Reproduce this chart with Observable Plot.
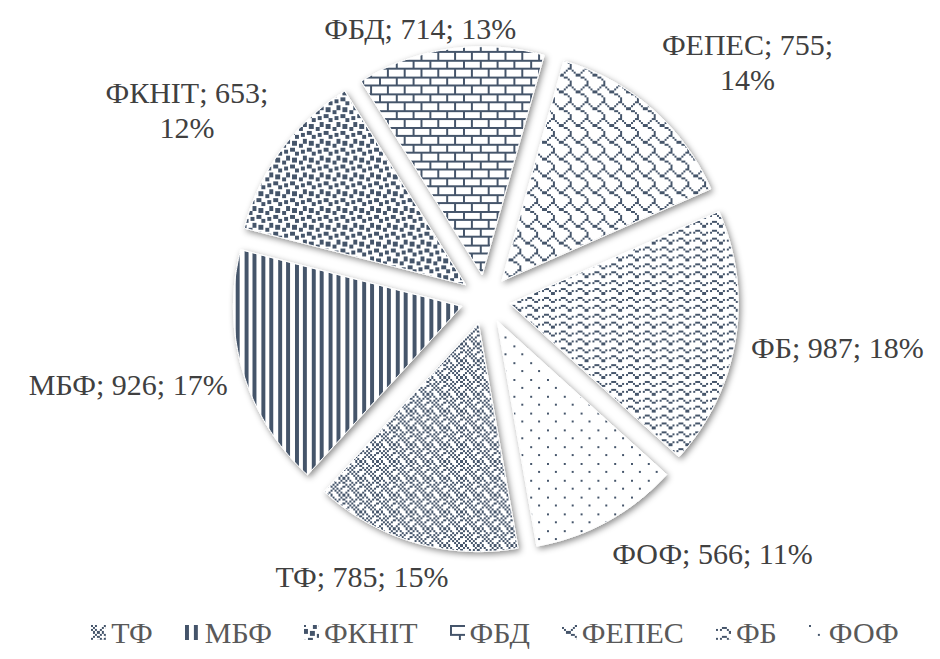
<!DOCTYPE html>
<html>
<head>
<meta charset="utf-8">
<script src="https://cdn.jsdelivr.net/npm/d3@7"></script>
<script src="https://cdn.jsdelivr.net/npm/@observablehq/plot@0.6"></script>
<style>
  html, body { margin: 0; padding: 0; background: #fff; }
  body { width: 940px; height: 659px; overflow: hidden; font-family: "Liberation Serif", "Times New Roman", serif; }
  #legend { display: flex; justify-content: center; align-items: center; height: 59px; box-sizing: border-box;
            padding-left: 50px; padding-top: 6px; gap: 32px; font-size: 30px; color: #595959; }
  .item { display: flex; align-items: center; gap: 5px; }
  .item svg { display: block; }
</style>
</head>
<body>
<svg width="0" height="0" style="position:absolute"><defs id="defs"></defs></svg>
<div id="chart"></div>
<div id="legend"></div>
<script>
// ---- data ----
const categories = ["ТФ", "МБФ", "ФКНІТ", "ФБД", "ФЕПЕС", "ФБ", "ФОФ"];
const values = [785, 926, 653, 714, 755, 987, 566];

// ---- styles (Excel-like pattern fills, 8x8 bitmaps) ----
const patternBitmaps = [
  [0xa2, 0x45, 0xa8, 0x54, 0x2a, 0x51, 0x8a, 0x15], // diagonal texture
  [0xcc, 0xcc, 0xcc, 0xcc, 0xcc, 0xcc, 0xcc, 0xcc], // dark vertical
  [0x8d, 0x0c, 0xc0, 0xd8, 0x1b, 0x03, 0x30, 0xb1], // large confetti
  [0xff, 0x80, 0x80, 0x80, 0xff, 0x08, 0x08, 0x08], // horizontal brick
  [0x03, 0x84, 0x48, 0x30, 0x0c, 0x02, 0x01, 0x01], // shingle
  [0x00, 0x18, 0xa4, 0x03, 0x00, 0x18, 0xa4, 0x03], // wave
  [0x80, 0x00, 0x00, 0x00, 0x08, 0x00, 0x00, 0x00]  // 5%
];
const FG = "#44546A";
const PIX = 2.1;

// ---- layout ----
const W = 940, H = 600, CX = 485, CY = 299, R = 228;
const START_DEG = 170;     // first slice angle, clockwise from 12 o'clock
const EXPLODE = 0.11;      // slice explosion, fraction of radius
const LABEL_R = 1.18;      // label anchor distance, fraction of radius
const LABEL_SIZE = 30, LABEL_LH = 1.17, LABEL_TOP = 10;
const FONT = '"Liberation Serif", "Times New Roman", serif';

// ---- patterns & filter ----
const defs = d3.select("#defs");
patternBitmaps.forEach((rows, i) => {
  const p = defs.append("pattern").attr("id", `pat-${i}`).attr("patternUnits", "userSpaceOnUse")
    .attr("width", 8 * PIX).attr("height", 8 * PIX);
  p.append("rect").attr("width", 8 * PIX).attr("height", 8 * PIX).attr("fill", "#fff");
  rows.forEach((b, r) => {
    for (let c = 0; c < 8; c++) if ((b >> (7 - c)) & 1)
      p.append("rect").attr("x", c * PIX).attr("y", r * PIX).attr("width", PIX).attr("height", PIX)
        .attr("fill", FG).attr("shape-rendering", "crispEdges");
  });
});
const f = defs.append("filter").attr("id", "shadow").attr("x", "-15%").attr("y", "-15%").attr("width", "130%").attr("height", "130%");
f.append("feDropShadow").attr("dx", 2).attr("dy", 2.5).attr("stdDeviation", 3)
  .attr("flood-color", "#000").attr("flood-opacity", 0.45);

// ---- geometry from data ----
const total = d3.sum(values);
const a0 = START_DEG * Math.PI / 180;
const arcs = d3.pie().sort(null).startAngle(a0).endAngle(a0 + 2 * Math.PI)(values);

const slices = arcs.map((a, i) => {
  const mid = (a.startAngle + a.endAngle) / 2;
  const ox = EXPLODE * Math.sin(mid), oy = EXPLODE * Math.cos(mid);
  const n = Math.max(8, Math.ceil((a.endAngle - a.startAngle) * 120));
  const pts = [{x: ox, y: oy}];
  for (let k = 0; k <= n; k++) {
    const t = a.startAngle + (a.endAngle - a.startAngle) * k / n;
    pts.push({x: ox + Math.sin(t), y: oy + Math.cos(t)});
  }
  return {i, mid, pts};
});

// labels: box placed just outside the slice, touching an anchor on the radial line
const ctx = document.createElement("canvas").getContext("2d");
ctx.font = `${LABEL_SIZE}px ${FONT}`;
const clamp1 = v => Math.max(-1, Math.min(1, v));
const labels = slices.map(({i, mid}) => {
  const s = Math.sin(mid), c = Math.cos(mid);
  const pct = Math.round(values[i] / total * 100);
  const wrap = c > 0.3 && Math.abs(s) > 0.5;
  const text = `${categories[i]}; ${values[i]};${wrap ? "\n" : " "}${pct}%`;
  const lines = text.split("\n");
  const w = d3.max(lines, l => ctx.measureText(l).width);
  const h = lines.length * LABEL_SIZE * LABEL_LH;
  const x = LABEL_R * s + clamp1(2 * s) * w / 2 / R;
  let y = LABEL_R * c + clamp1(1.5 * c) * h / 2 / R;
  y = Math.min(y, (CY - LABEL_TOP - h / 2) / R);   // keep inside the chart area
  return {text, x, y};
});

const chart = Plot.plot({
  width: W, height: H, margin: 0,
  x: {domain: [-CX / R, (W - CX) / R], axis: null},
  y: {domain: [-(H - CY) / R, CY / R], axis: null},
  style: {fontFamily: FONT, background: "#fff", overflow: "visible"},
  marks: [
    ...slices.map(s => Plot.line(s.pts, {x: "x", y: "y", curve: "linear-closed",
      fill: `url(#pat-${s.i})`, stroke: "#fff", strokeWidth: 1})),
    Plot.text(labels, {x: "x", y: "y", text: "text", fontSize: LABEL_SIZE, lineHeight: LABEL_LH,
      fill: "#404040", textAnchor: "middle", lineAnchor: "middle"})
  ]
});
d3.select(chart).selectAll('g[aria-label="line"] path').attr("filter", "url(#shadow)");
document.getElementById("chart").append(chart);

// ---- legend ----
const legend = d3.select("#legend");
categories.forEach((cat, i) => {
  const it = legend.append("div").attr("class", "item");
  const sv = it.append("svg").attr("width", 15).attr("height", 15);
  sv.append("rect").attr("width", 15).attr("height", 15).attr("fill", `url(#pat-${i})`);
  it.append("span").text(cat);
});
</script>
</body>
</html>
